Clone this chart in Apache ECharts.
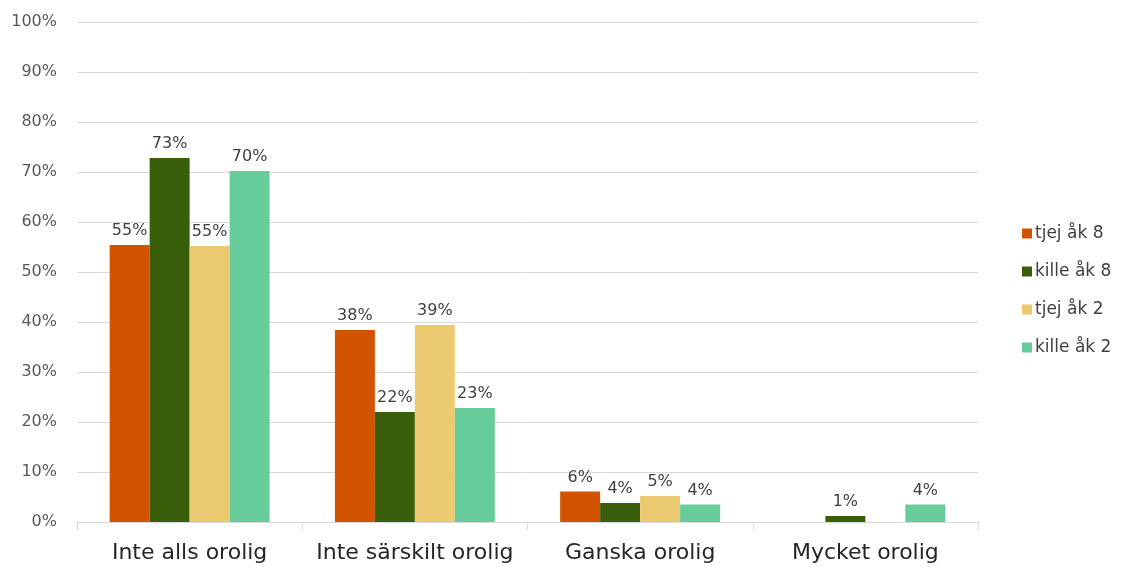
<!DOCTYPE html>
<html><head><meta charset="utf-8">
<script src="https://cdn.jsdelivr.net/npm/echarts@6/dist/echarts.min.js"></script>
<style>html,body{margin:0;padding:0;background:#fff}#c{width:1121px;height:567px}</style>
</head><body><div id="c"></div>
<script>
const categories = ['Inte alls orolig', 'Inte särskilt orolig', 'Ganska orolig', 'Mycket orolig'];
const seriesNames = ['tjej åk 8', 'kille åk 8', 'tjej åk 2', 'kille åk 2'];
const tjejAk8 = [55.4, 38.4, 6.1, null];
const killeAk8 = [72.8, 22.0, 3.8, 1.2];
const tjejAk2 = [55.2, 39.4, 5.2, null];
const killeAk2 = [70.2, 22.8, 3.5, 3.5];
const colors = ['#D35400', '#3A5F0B', '#EBC970', '#66CC99'];
const yTicks = [0, 10, 20, 30, 40, 50, 60, 70, 80, 90, 100];

const font = 'DejaVu Sans';
const data = [tjejAk8, killeAk8, tjejAk2, killeAk2];
const chart = echarts.init(document.getElementById('c'));
chart.setOption({
  animation: false,
  textStyle: { fontFamily: font },
  legend: {
    orient: 'vertical', left: 1017, top: 220, itemWidth: 10, itemHeight: 10, itemGap: 21,
    icon: 'rect', itemStyle: { borderWidth: 0 },
    textStyle: { fontSize: 17, color: '#404040', fontFamily: font, padding: [0, 0, 0, -2] },
    data: seriesNames
  },
  grid: { left: 77, right: 143, top: 22, bottom: 45, containLabel: false },
  xAxis: {
    type: 'category', data: categories,
    axisLine: { lineStyle: { color: '#d9d9d9', width: 1 } },
    axisTick: { show: true, length: 8, interval: 0, lineStyle: { color: '#d9d9d9' } },
    axisLabel: { fontSize: 22, color: '#262626', margin: 20, interval: 0, fontFamily: font }
  },
  yAxis: {
    type: 'value', min: 0, max: 100, interval: 10,
    axisLabel: { formatter: v => yTicks.includes(v) ? v + '%' : '', fontSize: 16, color: '#595959', margin: 20, fontFamily: font },
    splitLine: { lineStyle: { color: '#d9d9d9', width: 1 } },
    axisLine: { show: false }, axisTick: { show: false }
  },
  series: seriesNames.map((n, i) => ({
    name: n, type: 'bar', data: data[i], barGap: '0%', barCategoryGap: '29%',
    itemStyle: { color: colors[i] },
    label: { show: true, position: 'top', distance: 6, fontSize: 16, color: '#404040', fontFamily: font,
      formatter: p => p.value == null ? '' : Math.round(p.value) + '%' }
  }))
});
</script></body></html>
